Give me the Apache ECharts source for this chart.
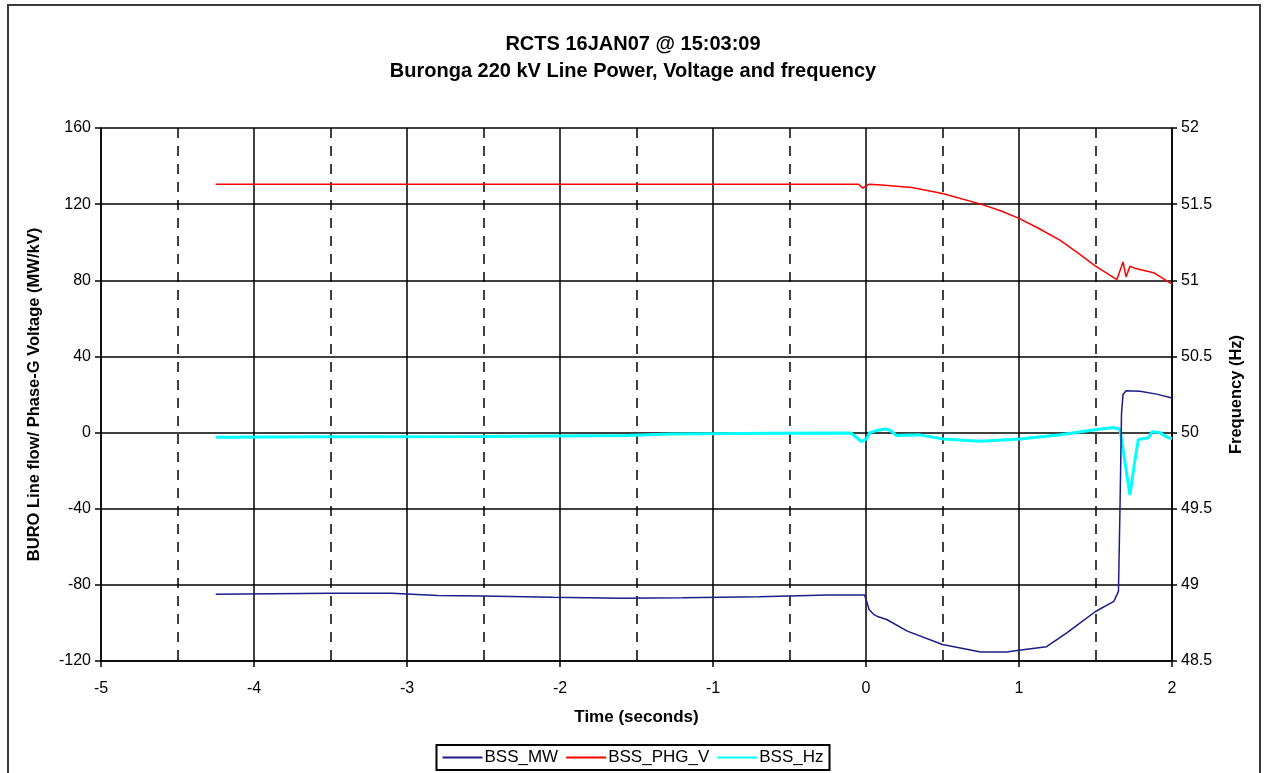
<!DOCTYPE html>
<html>
<head>
<meta charset="utf-8">
<script src="https://cdn.jsdelivr.net/npm/echarts@6/dist/echarts.min.js"></script>
<style>
html,body{margin:0;padding:0;background:#fff;}
#chart{width:1266px;height:773px;}
</style>
</head>
<body>
<div id="chart"></div>
<script>
// ---- data ----
var titleLines = ["RCTS 16JAN07 @ 15:03:09", "Buronga 220 kV Line Power, Voltage and frequency"];
var seriesNames = ["BSS_MW", "BSS_PHG_V", "BSS_Hz"];
var xTicks = [-5, -4, -3, -2, -1, 0, 1, 2];
var leftTicks = [-120, -80, -40, 0, 40, 80, 120, 160];
var rightTicks = [48.5, 49, 49.5, 50, 50.5, 51, 51.5, 52];

var mwTime = [-4.25, -3.5, -3.1, -2.8, -2.5, -2.05, -1.6, -1.2, -0.7, -0.25, -0.01, 0.0, 0.02, 0.05, 0.08, 0.135, 0.27, 0.5, 0.75, 0.92, 1.0, 1.18, 1.31, 1.4, 1.5, 1.62, 1.65, 1.66, 1.67, 1.68, 1.70, 1.79, 1.9, 2.0];
var mwValues = [-84.9, -84.4, -84.4, -85.6, -85.8, -86.5, -87.0, -86.8, -86.2, -85.3, -85.3, -87.5, -92.9, -95.5, -96.8, -98.2, -104.3, -111.3, -115.3, -115.3, -114.3, -112.5, -105.4, -100.0, -94.0, -88.7, -83.4, -40, 10, 20, 22, 21.7, 20.2, 18.2];

var vTime = [-4.25, -3.0, -2.0, -1.0, -0.1, -0.05, -0.02, 0.02, 0.1, 0.3, 0.5, 0.75, 0.88, 1.0, 1.13, 1.27, 1.4, 1.5, 1.64, 1.68, 1.70, 1.725, 1.75, 1.88, 2.0];
var vValues = [130.5, 130.5, 130.5, 130.5, 130.5, 130.5, 128.4, 130.5, 130.0, 128.8, 125.6, 120.0, 116.5, 112.5, 107.2, 101.0, 93.5, 87.4, 80.4, 89.6, 81.7, 87.4, 86.5, 84.0, 78.0];

var hzTime = [-4.25, -3.5, -2.5, -1.57, -1.27, -0.6, -0.1, -0.06, -0.03, 0.004, 0.026, 0.07, 0.124, 0.157, 0.2, 0.35, 0.505, 0.745, 1.007, 1.27, 1.485, 1.616, 1.66, 1.68, 1.725, 1.758, 1.78, 1.846, 1.87, 1.92, 1.967, 2.0];
var hzValues = [49.97, 49.972, 49.975, 49.98, 49.99, 49.995, 49.997, 49.966, 49.94, 49.96, 50.0, 50.013, 50.024, 50.015, 49.98, 49.985, 49.958, 49.943, 49.958, 49.985, 50.017, 50.033, 50.02, 49.89, 49.59, 49.82, 49.955, 49.966, 50.005, 50.0, 49.97, 49.96];

function pairs(xs, ys){ return xs.map(function(x,i){ return [x, ys[i]]; }); }

var FONT = "'Liberation Sans', Arial, sans-serif";
var chart = echarts.init(document.getElementById('chart'), null, {renderer:'canvas'});
var option = {
  backgroundColor: '#ffffff',
  animation: false,
  textStyle: {fontFamily: FONT},
  graphic: [{
    type: 'rect', silent: true, z: 100,
    shape: {x: 8, y: 5, width: 1252, height: 790},
    style: {fill: 'none', stroke: '#3a3a3a', lineWidth: 2}
  }],
  title: {
    text: titleLines.join('\n'),
    left: 'center', top: 26,
    textStyle: {fontFamily: FONT, fontSize: 20, fontWeight: 'bold', color: '#000', lineHeight: 27}
  },
  legend: {
    data: seriesNames,
    left: 'center', top: 745,
    orient: 'horizontal',
    icon: 'rect',
    itemWidth: 40, itemHeight: 2, itemGap: 8,
    padding: [4, 6, 4, 6],
    borderColor: '#000', borderWidth: 2,
    textStyle: {fontFamily: FONT, fontSize: 17, color: '#000', padding: [0,0,0,-3]}
  },
  grid: {left: 101, right: 94, top: 128, bottom: 112, containLabel: false},
  xAxis: {
    type: 'value', min: xTicks[0], max: xTicks[xTicks.length-1], interval: 1,
    name: 'Time (seconds)', nameLocation: 'middle', nameGap: 48,
    nameTextStyle: {fontFamily: FONT, fontSize: 17, fontWeight: 'bold', color: '#000'},
    axisLine: {show: true, onZero: false, lineStyle: {color: '#000', width: 1.5}},
    axisTick: {show: true, inside: false, length: 6, lineStyle: {color: '#000', width: 1.5}},
    axisLabel: {color: '#000', fontSize: 16, margin: 20, fontFamily: FONT},
    splitLine: {show: true, lineStyle: {color: '#000', width: 1.5}},
    minorTick: {show: false, splitNumber: 2},
    minorSplitLine: {show: true, lineStyle: {color: '#000', width: 1.5, type: [10, 8]}}
  },
  yAxis: [{
    type: 'value', min: leftTicks[0], max: leftTicks[leftTicks.length-1], interval: 40,
    name: 'BURO Line flow/ Phase-G Voltage (MW/kV)', nameLocation: 'middle', nameGap: 58, nameRotate: 90,
    nameTextStyle: {fontFamily: FONT, fontSize: 16.5, fontWeight: 'bold', color: '#000'},
    axisLine: {show: true, onZero: false, lineStyle: {color: '#000', width: 1.5}},
    axisTick: {show: true, inside: false, length: 6, lineStyle: {color: '#000', width: 1.5}},
    axisLabel: {color: '#000', fontSize: 16, margin: 10, fontFamily: FONT},
    splitLine: {show: true, lineStyle: {color: '#000', width: 1.5}}
  }, {
    type: 'value', position: 'right', min: rightTicks[0], max: rightTicks[rightTicks.length-1], interval: 0.5,
    name: 'Frequency (Hz)', nameLocation: 'middle', nameGap: 56, nameRotate: 90,
    nameTextStyle: {fontFamily: FONT, fontSize: 16.5, fontWeight: 'bold', color: '#000'},
    axisLine: {show: true, onZero: false, lineStyle: {color: '#000', width: 1.5}},
    axisTick: {show: true, inside: false, length: 5, lineStyle: {color: '#000', width: 1.5}},
    axisLabel: {color: '#000', fontSize: 16, margin: 9, fontFamily: FONT},
    splitLine: {show: false}
  }],
  series: [{
    name: seriesNames[0], type: 'line', yAxisIndex: 0, symbol: 'none', z: 3,
    data: pairs(mwTime, mwValues),
    lineStyle: {color: '#1c1c8a', width: 1.5}, itemStyle: {color: '#1c1c8a'}
  }, {
    name: seriesNames[1], type: 'line', yAxisIndex: 0, symbol: 'none', z: 3,
    data: pairs(vTime, vValues),
    lineStyle: {color: '#ff0000', width: 1.5}, itemStyle: {color: '#ff0000'}
  }, {
    name: seriesNames[2], type: 'line', yAxisIndex: 1, symbol: 'none', z: 2,
    data: pairs(hzTime, hzValues),
    lineStyle: {color: '#00ffff', width: 3}, itemStyle: {color: '#00ffff'}
  }]
};
chart.setOption(option);
</script>
</body>
</html>
